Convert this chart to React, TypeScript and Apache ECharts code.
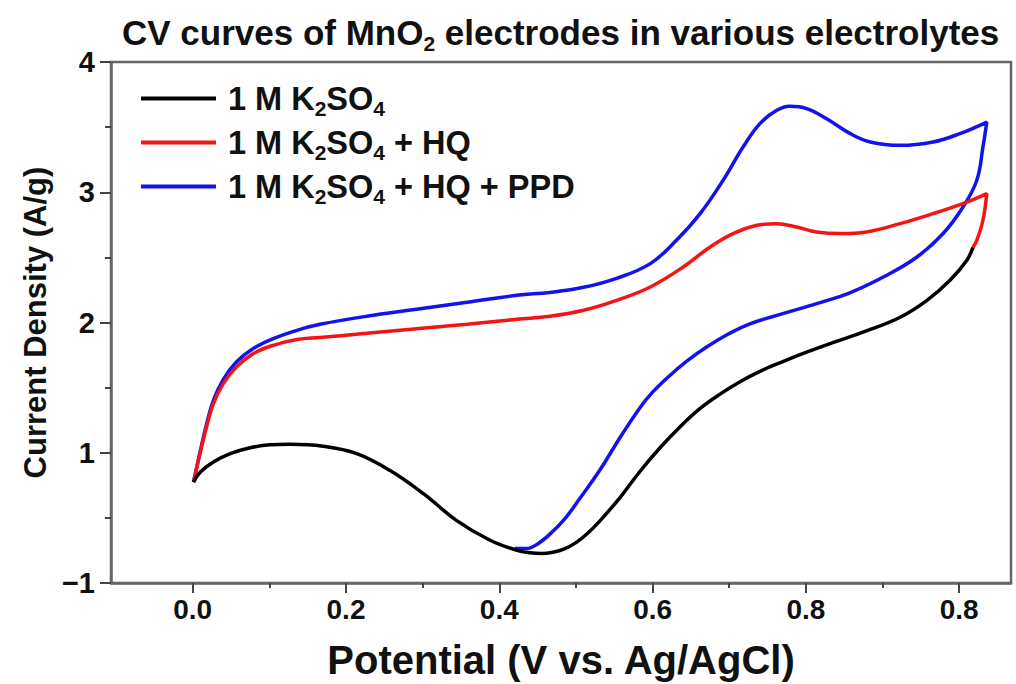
import React, { useEffect, useRef } from 'react';
import * as echarts from 'echarts';

const SERIES_NAMES = ['1 M K2SO4', '1 M K2SO4 + HQ', '1 M K2SO4 + HQ + PPD'];
const SERIES_COLORS = ['#000000', '#f41414', '#1212ee'];

const X_TICKS = [0, 0.2, 0.4, 0.6, 0.8, 1.0];
const X_TICK_LABELS = ['0.0', '0.2', '0.4', '0.6', '0.8', '0.8'];
const X_MINOR_TICKS = [0.1, 0.3, 0.5, 0.7, 0.9];
const Y_TICK_LABELS = ['\u22121', '1', '2', '3', '4'];

// [potential, current density]
const K2SO4_CURVE = [
  [0.001, 0.775], [0.010, 0.852], [0.027, 0.929], [0.049, 0.993], [0.075, 1.038],
  [0.101, 1.061], [0.127, 1.065], [0.170, 1.050], [0.214, 0.993], [0.257, 0.865],
  [0.301, 0.686], [0.344, 0.481], [0.388, 0.328], [0.423, 0.251], [0.440, 0.232],
  [0.455, 0.226], [0.470, 0.236], [0.485, 0.262], [0.500, 0.310], [0.515, 0.380],
  [0.531, 0.475], [0.558, 0.660], [0.584, 0.860], [0.610, 1.040], [0.636, 1.200],
  [0.662, 1.340], [0.688, 1.450], [0.714, 1.545], [0.740, 1.625], [0.770, 1.700],
  [0.800, 1.770], [0.835, 1.845], [0.879, 1.935], [0.923, 2.040], [0.958, 2.170],
  [0.988, 2.324], [1.010, 2.478], [1.018, 2.577],
];

const HQ_CURVE = [
  [0.001, 0.775], [0.0095, 0.993], [0.018, 1.198], [0.027, 1.377], [0.040, 1.531],
  [0.057, 1.658], [0.079, 1.761], [0.105, 1.825], [0.136, 1.869], [0.166, 1.885],
  [0.227, 1.917], [0.292, 1.952], [0.358, 1.986], [0.423, 2.025], [0.466, 2.048],
  [0.510, 2.094], [0.553, 2.170], [0.597, 2.273], [0.640, 2.426], [0.675, 2.580],
  [0.705, 2.683], [0.736, 2.746], [0.762, 2.759], [0.788, 2.733], [0.814, 2.695],
  [0.845, 2.683], [0.879, 2.695], [0.923, 2.759], [0.966, 2.836], [1.010, 2.925],
  [1.036, 2.990], [1.031, 2.785], [1.023, 2.631], [1.018, 2.577],
];

const HQ_PPD_CURVE = [
  [0.001, 0.775], [0.0095, 1.003], [0.018, 1.218], [0.027, 1.403], [0.040, 1.564],
  [0.057, 1.697], [0.079, 1.800], [0.105, 1.876], [0.136, 1.940], [0.166, 1.986],
  [0.227, 2.048], [0.292, 2.101], [0.358, 2.155], [0.423, 2.209], [0.466, 2.231],
  [0.510, 2.270], [0.553, 2.339], [0.597, 2.452], [0.631, 2.631], [0.662, 2.836],
  [0.692, 3.092], [0.718, 3.347], [0.740, 3.527], [0.762, 3.629], [0.779, 3.660],
  [0.801, 3.642], [0.827, 3.565], [0.858, 3.450], [0.884, 3.386], [0.923, 3.360],
  [0.966, 3.386], [1.001, 3.450], [1.036, 3.539], [1.031, 3.347], [1.023, 3.092],
  [1.005, 2.887], [0.979, 2.683], [0.945, 2.503], [0.901, 2.349], [0.858, 2.230],
  [0.814, 2.145], [0.771, 2.070], [0.727, 1.990], [0.700, 1.915], [0.670, 1.810],
  [0.645, 1.705], [0.620, 1.580], [0.600, 1.465], [0.584, 1.350], [0.558, 1.121],
  [0.531, 0.865], [0.505, 0.648], [0.486, 0.497], [0.466, 0.375], [0.450, 0.300],
  [0.436, 0.265], [0.420, 0.265],
];

const FONT = "'Liberation Sans', Arial, Helvetica, sans-serif";

function richName(name: string) {
  return name.replace('K2SO4', 'K{s|2}SO{s|4}');
}

export default function App() {
  const ref = useRef<HTMLDivElement>(null);

  useEffect(() => {
    if (!ref.current) return;
    const chart = echarts.init(ref.current, null, { renderer: 'svg' });
    const curves = [K2SO4_CURVE, HQ_CURVE, HQ_PPD_CURVE];
    const zs = [4, 3, 2];
    const option: any = {
      animation: false,
      backgroundColor: '#ffffff',
      title: {
        text: 'CV curves of MnO{sub|2} electrodes in various electrolytes',
        left: 122,
        top: 12,
        padding: 0,
        textStyle: {
          fontFamily: FONT,
          fontWeight: 'bold',
          fontSize: 35,
          lineHeight: 40,
          color: '#111',
          rich: {
            sub: { fontFamily: FONT, fontWeight: 'bold', fontSize: 21, color: '#111', padding: [22, 0, 0, 0] },
          },
        },
      },
      legend: {
        data: SERIES_NAMES,
        orient: 'vertical',
        left: 141,
        top: 82,
        padding: 0,
        itemGap: 7,
        itemWidth: 75,
        itemHeight: 4,
        icon: 'rect',
        formatter: (name: string) => richName(name),
        textStyle: {
          fontFamily: FONT,
          fontWeight: 'bold',
          fontSize: 32.5,
          lineHeight: 32,
          color: '#111',
          padding: [0, 0, 0, 7],
          rich: {
            s: { fontFamily: FONT, fontWeight: 'bold', fontSize: 21, color: '#111', padding: [20, 0, 0, 0] },
          },
        },
      },
      grid: {
        left: 111,
        right: 5,
        top: 62,
        bottom: 101,
        show: true,
        borderColor: '#666',
        borderWidth: 2.5,
        containLabel: false,
        outerBoundsMode: 'none',
      },
      xAxis: [
        {
          type: 'value',
          min: -0.1066,
          max: 1.0676,
          position: 'bottom',
          name: 'Potential (V vs. Ag/AgCl)',
          nameLocation: 'middle',
          nameGap: 57,
          nameMoveOverlap: false,
          nameTextStyle: { fontFamily: FONT, fontWeight: 'bold', fontSize: 40, color: '#111' },
          axisLine: { show: true, onZero: false, lineStyle: { color: '#666', width: 2.5 } },
          axisTick: { show: true, inside: false, length: 10, customValues: X_TICKS, lineStyle: { color: '#444', width: 2 } },
          axisLabel: {
            show: true,
            customValues: X_TICKS,
            margin: 12,
            fontFamily: FONT,
            fontWeight: 'bold',
            fontSize: 28,
            color: '#111',
            formatter: (v: number) => X_TICK_LABELS[Math.round(v / 0.2)],
          },
          splitLine: { show: false },
        },
        {
          type: 'value',
          min: -0.1066,
          max: 1.0676,
          position: 'bottom',
          axisLine: { show: false, onZero: false },
          axisTick: { show: true, inside: false, length: 5, customValues: X_MINOR_TICKS, lineStyle: { color: '#444', width: 2 } },
          axisLabel: { show: false },
          splitLine: { show: false },
        },
      ],
      yAxis: {
        type: 'value',
        min: 0,
        max: 4,
        interval: 1,
        name: 'Current Density (A/g)',
        nameLocation: 'middle',
        nameGap: 60,
        nameMoveOverlap: false,
        nameTextStyle: { fontFamily: FONT, fontWeight: 'bold', fontSize: 31, color: '#111' },
        axisLine: { show: true, onZero: false, lineStyle: { color: '#666', width: 2.5 } },
        axisTick: { show: true, inside: false, length: 11, lineStyle: { color: '#444', width: 2 } },
        minorTick: { show: true, splitNumber: 2, length: 6, lineStyle: { color: '#444', width: 2 } },
        axisLabel: {
          margin: 16,
          fontFamily: FONT,
          fontWeight: 'bold',
          fontSize: 29,
          color: '#111',
          formatter: (v: number) => Y_TICK_LABELS[Math.round(v)],
        },
        splitLine: { show: false },
        minorSplitLine: { show: false },
      },
      series: SERIES_NAMES.map((name, i) => ({
        name,
        type: 'line',
        xAxisIndex: 0,
        data: curves[i],
        smooth: 0.4,
        showSymbol: false,
        symbol: 'none',
        z: zs[i],
        color: SERIES_COLORS[i],
        lineStyle: { color: SERIES_COLORS[i], width: 3.5 },
      })),
    };
    chart.setOption(option);
    return () => chart.dispose();
  }, []);

  return (
    <div
      ref={ref}
      style={{ position: 'fixed', left: 0, top: 0, width: 1016, height: 684, background: '#fff' }}
    />
  );
}
